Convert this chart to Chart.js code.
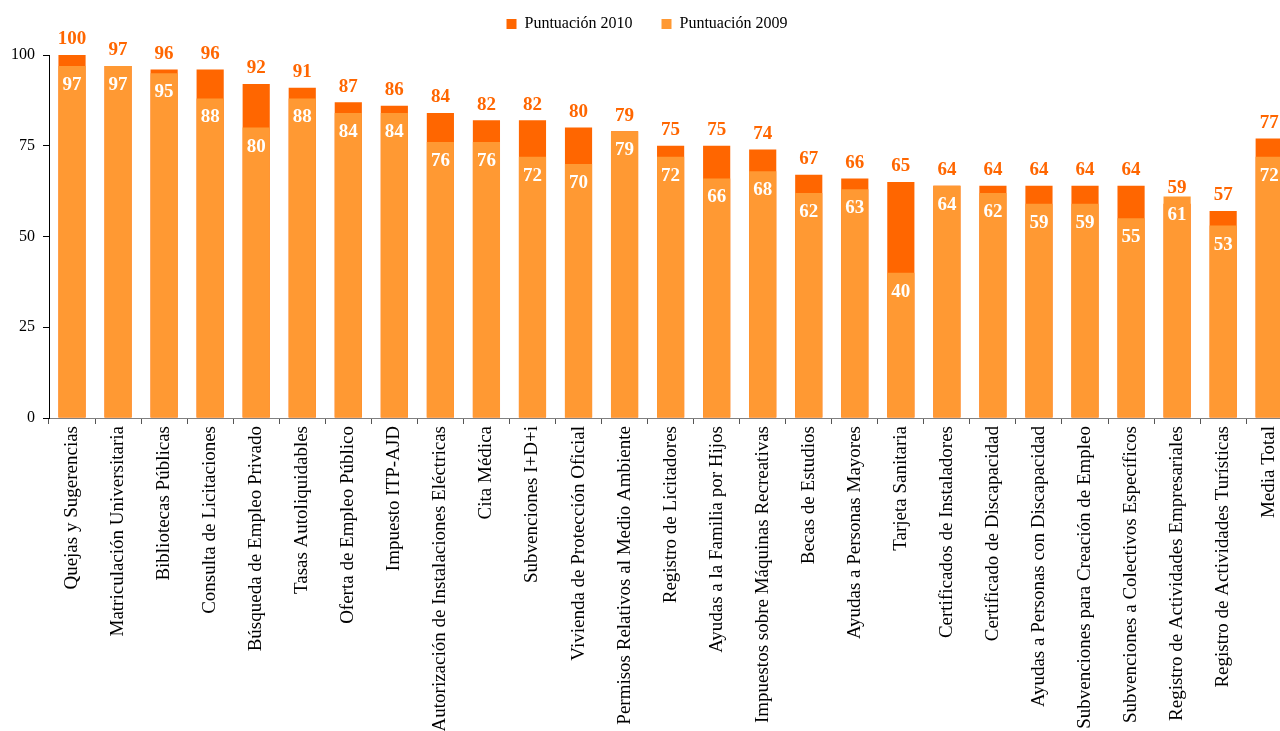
<!DOCTYPE html>
<html lang="es">
<head>
<meta charset="utf-8">
<title>Puntuación 2010 / 2009</title>
<script src="https://cdn.jsdelivr.net/npm/chart.js@4.4.1/dist/chart.umd.min.js"></script>
<style>
  html, body { margin: 0; padding: 0; background: #fff; overflow: hidden; }
  #wrap { width: 1294px; height: 731px; }
  canvas { display: block; }
</style>
</head>
<body>
<div id="wrap"><canvas id="chart" width="1294" height="731"></canvas></div>
<script>
// Servicios evaluados
const categories = [
  'Quejas y Sugerencias',
  'Matriculación Universitaria',
  'Bibliotecas Públicas',
  'Consulta de Licitaciones',
  'Búsqueda de Empleo Privado',
  'Tasas Autoliquidables',
  'Oferta de Empleo Público',
  'Impuesto ITP-AJD',
  'Autorización de Instalaciones Eléctricas',
  'Cita Médica',
  'Subvenciones I+D+i',
  'Vivienda de Protección Oficial',
  'Permisos Relativos al Medio Ambiente',
  'Registro de Licitadores',
  'Ayudas a la Familia por Hijos',
  'Impuestos sobre Máquinas Recreativas',
  'Becas de Estudios',
  'Ayudas a Personas Mayores',
  'Tarjeta Sanitaria',
  'Certificados de Instaladores',
  'Certificado de Discapacidad',
  'Ayudas a Personas con Discapacidad',
  'Subvenciones para Creación de Empleo',
  'Subvenciones a Colectivos Específicos',
  'Registro de Actividades Empresariales',
  'Registro de Actividades Turísticas',
  'Media Total'
];

const puntuacion2010 = [100, 97, 96, 96, 92, 91, 87, 86, 84, 82, 82, 80, 79, 75, 75, 74, 67, 66, 65, 64, 64, 64, 64, 64, 59, 57, 77];
const puntuacion2009 = [97, 97, 95, 88, 80, 88, 84, 84, 76, 76, 72, 70, 79, 72, 66, 68, 62, 63, 40, 64, 62, 59, 59, 55, 61, 53, 72];

const yTicks = [0, 25, 50, 75, 100];

const COLOR_2010 = '#FF6600';
const COLOR_2009 = '#FF9933';
const SERIF = '"Liberation Serif", "Times New Roman", serif';

// Value labels: 2010 above its bar, 2009 inside the top of its bar
const valueLabels = {
  id: 'valueLabels',
  afterDatasetsDraw(chart) {
    const ctx = chart.ctx;
    ctx.save();
    ctx.font = 'bold 19px ' + SERIF;
    ctx.textAlign = 'center';
    ctx.textBaseline = 'middle';
    const m2010 = chart.getDatasetMeta(0);
    const m2009 = chart.getDatasetMeta(1);
    m2009.data.forEach((bar, i) => {
      ctx.fillStyle = '#FFFFFF';
      ctx.fillText(String(puntuacion2009[i]), bar.x, bar.y + 19);
    });
    m2010.data.forEach((bar, i) => {
      ctx.fillStyle = COLOR_2010;
      ctx.fillText(String(puntuacion2010[i]), bar.x, bar.y - 15.5);
    });
    ctx.restore();
  }
};

new Chart(document.getElementById('chart'), {
  type: 'bar',
  data: {
    labels: categories,
    datasets: [
      {
        label: 'Puntuación 2010',
        data: puntuacion2010,
        backgroundColor: COLOR_2010,
        borderWidth: 0,
        grouped: false,
        order: 2,
        categoryPercentage: 1,
        barPercentage: 0.59
      },
      {
        label: 'Puntuación 2009',
        data: puntuacion2009,
        backgroundColor: COLOR_2009,
        borderWidth: 0,
        grouped: false,
        order: 1,
        categoryPercentage: 1,
        barPercentage: 0.59
      }
    ]
  },
  options: {
    responsive: false,
    animation: false,
    devicePixelRatio: 1,
    layout: { padding: { top: -13, left: 0, right: 0, bottom: 0 } },
    plugins: {
      tooltip: { enabled: false },
      legend: {
        position: 'top',
        weight: 3000,
        labels: {
          font: { family: SERIF, size: 16 },
          color: '#000',
          boxWidth: 10,
          boxHeight: 10,
          padding: 29,
          sort: (a, b) => a.datasetIndex - b.datasetIndex
        }
      },
      // empty title used only as a spacer between legend and plot
      title: {
        display: true,
        text: '',
        position: 'top',
        weight: 2000,
        font: { size: 10, lineHeight: 1 },
        padding: { top: 0, bottom: 3 }
      }
    },
    scales: {
      x: {
        afterFit(scale) { scale.height = 313; },
        grid: {
          offset: true,
          drawOnChartArea: false,
          drawTicks: true,
          tickLength: 6,
          color: '#555'
        },
        border: { display: true, color: '#808080', width: 1 },
        ticks: {
          autoSkip: false,
          maxRotation: 90,
          minRotation: 90,
          padding: 2,
          color: '#000',
          font: { family: SERIF, size: 19 }
        }
      },
      y: {
        min: 0,
        max: 100,
        afterFit(scale) { scale.width = 49; },
        afterBuildTicks(scale) { scale.ticks = yTicks.map(v => ({ value: v })); },
        grid: {
          drawOnChartArea: false,
          drawTicks: true,
          tickLength: 6,
          color: '#000'
        },
        border: { display: true, color: '#000', width: 1 },
        ticks: {
          padding: 8,
          color: '#000',
          font: { family: SERIF, size: 16 }
        }
      }
    }
  },
  plugins: [valueLabels]
});
</script>
</body>
</html>
